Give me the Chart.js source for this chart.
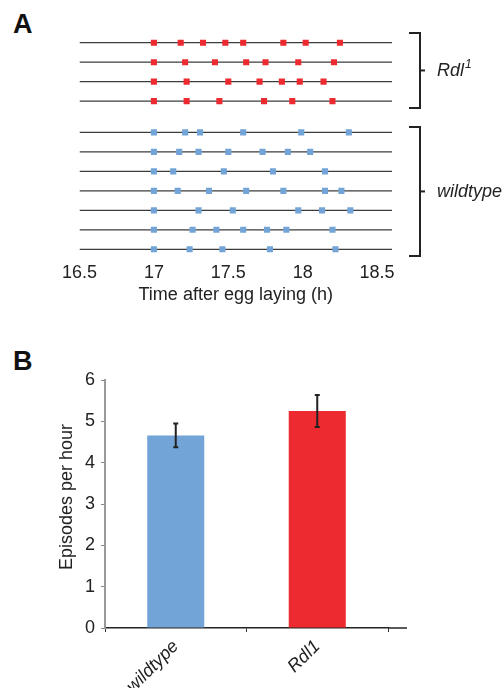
<!DOCTYPE html>
<html><head><meta charset="utf-8">
<script src="https://cdn.jsdelivr.net/npm/chart.js@4"></script>
<style>
html,body{margin:0;padding:0;background:#fff;}
body{width:504px;height:688px;position:relative;overflow:hidden;font-family:"Liberation Sans",Arial,sans-serif;}
#wa{position:absolute;left:0;top:0;width:504px;height:315px;}
#wb{position:absolute;left:0;top:340px;width:504px;height:348px;}
.pl{position:absolute;left:13px;font:bold 27px "Liberation Sans",Arial,sans-serif;line-height:1;color:#111;}
</style></head><body>
<div class="pl" style="top:11px">A</div>
<div class="pl" style="top:348px">B</div>
<div id="wa"><canvas id="ca"></canvas></div>
<div id="wb"><canvas id="cb"></canvas></div>
<script>
// ---- Panel A data ----
const timeTicks = [16.5, 17, 17.5, 18, 18.5];
const timeRange = [16.5, 18.6];
const rdlRows = [
  [17.00, 17.18, 17.33, 17.48, 17.60, 17.87, 18.02, 18.25],
  [17.00, 17.21, 17.41, 17.62, 17.75, 17.97, 18.21],
  [17.00, 17.22, 17.50, 17.71, 17.86, 17.98, 18.14],
  [17.00, 17.22, 17.44, 17.74, 17.93, 18.20]
];
const wildtypeRows = [
  [17.00, 17.21, 17.31, 17.60, 17.99, 18.31],
  [17.00, 17.17, 17.30, 17.50, 17.73, 17.90, 18.05],
  [17.00, 17.13, 17.47, 17.80, 18.15],
  [17.00, 17.16, 17.37, 17.62, 17.87, 18.15, 18.26],
  [17.00, 17.30, 17.53, 17.97, 18.13, 18.32],
  [17.00, 17.26, 17.42, 17.60, 17.76, 17.89, 18.20],
  [17.00, 17.24, 17.46, 17.78, 18.22]
];
const groupNames = ['Rdl', 'wildtype'];
const groupSup = ['1', ''];
const xTitleA = 'Time after egg laying (h)';

// ---- Panel B data ----
const barCategories = ['wildtype', 'Rdl1'];
const barMeans = [4.66, 5.25];
const barErrors = [0.29, 0.39];
const yTicksB = [0, 1, 2, 3, 4, 5, 6];
const yTitleB = 'Episodes per hour';

const F = '"Liberation Sans", Arial, Helvetica, sans-serif';
const RED = '#EC2A30', BLUE = '#72A4D7', INK = '#222';

// rows -> y positions (row index based, gap between groups)
const rowsA = [];
rdlRows.forEach((r, i) => rowsA.push({vals: r, y: i, color: RED}));
wildtypeRows.forEach((r, i) => rowsA.push({vals: r, y: rdlRows.length + 0.6 + i, color: BLUE}));

const dsA = [];
rowsA.forEach(row => dsA.push({
  type: 'scatter', data: row.vals.map(v => ({x: v, y: row.y})),
  pointStyle: 'rect', pointRadius: 4.3, pointHoverRadius: 4.3,
  backgroundColor: row.color, borderWidth: 0, order: 0
}));
rowsA.forEach(row => dsA.push({
  type: 'line', data: timeRange.map(v => ({x: v, y: row.y})),
  borderColor: '#3c3c3c', borderWidth: 1.3, pointRadius: 0, order: 1
}));

const bracketPlugin = {
  id: 'brackets',
  afterDraw(c) {
    const {ctx, chartArea: a, scales: {y}} = c;
    const nR = rdlRows.length, nW = wildtypeRows.length;
    const groups = [
      {t: y.getPixelForValue(-0.5), b: y.getPixelForValue(nR - 1 + 0.35)},
      {t: y.getPixelForValue(nR + 0.6 - 0.28), b: y.getPixelForValue(nR + 0.6 + nW - 1 + 0.34)}
    ];
    ctx.save();
    ctx.strokeStyle = INK; ctx.lineWidth = 2;
    const x0 = a.right + 17, x1 = a.right + 28;
    groups.forEach((g, i) => {
      ctx.beginPath();
      ctx.moveTo(x0, g.t); ctx.lineTo(x1, g.t); ctx.lineTo(x1, g.b); ctx.lineTo(x0, g.b);
      ctx.stroke();
      const m = (g.t + g.b) / 2;
      ctx.beginPath(); ctx.moveTo(x1, m); ctx.lineTo(x1 + 5, m); ctx.stroke();
      ctx.fillStyle = INK; ctx.textBaseline = 'middle'; ctx.textAlign = 'left';
      ctx.font = 'italic 18px ' + F;
      const lx = a.right + 45;
      ctx.fillText(groupNames[i], lx, m + 1);
      if (groupSup[i]) {
        const w = ctx.measureText(groupNames[i]).width;
        ctx.font = 'italic 12px ' + F;
        ctx.fillText(groupSup[i], lx + w + 1, m - 6);
      }
    });
    ctx.restore();
  }
};

new Chart(document.getElementById('ca'), {
  type: 'scatter',
  data: {datasets: dsA},
  options: {
    responsive: true, maintainAspectRatio: false, animation: false,
    layout: {padding: {left: 79.5, right: 112, top: 30, bottom: 0}},
    plugins: {legend: {display: false}, tooltip: {enabled: false}},
    scales: {
      x: {
        type: 'linear', position: 'bottom', min: timeRange[0], max: timeRange[1],
        afterBuildTicks(s) { s.ticks = timeTicks.map(v => ({value: v})); },
        grid: {display: false, drawTicks: false}, border: {display: false},
        ticks: {font: {size: 18, family: F}, color: INK, padding: 0, maxRotation: 0,
                callback: v => String(v)},
        title: {display: true, text: xTitleA, font: {size: 18, family: F}, color: INK, padding: {top: 0, bottom: 9}},
        afterFit(s) { s.height = 53; }
      },
      y: {type: 'linear', display: false, reverse: true, min: -0.65, max: 11.25}
    }
  },
  plugins: [bracketPlugin]
});

const barExtrasPlugin = {
  id: 'barExtras',
  afterDatasetsDraw(c) {
    const {ctx, chartArea: a, scales: {y}} = c;
    const meta = c.getDatasetMeta(0);
    ctx.save();
    // error bars
    ctx.strokeStyle = INK; ctx.lineWidth = 2;
    meta.data.forEach((bar, i) => {
      const x = bar.x;
      const yt = y.getPixelForValue(barMeans[i] + barErrors[i]);
      const yb = y.getPixelForValue(barMeans[i] - barErrors[i]);
      ctx.beginPath();
      ctx.moveTo(x, yt); ctx.lineTo(x, yb);
      ctx.moveTo(x - 2.5, yt); ctx.lineTo(x + 2.5, yt);
      ctx.moveTo(x - 2.5, yb); ctx.lineTo(x + 2.5, yb);
      ctx.stroke();
    });
    ctx.restore();
  },
  afterDraw(c) {
    const {ctx, chartArea: a} = c;
    ctx.save();
    // x axis line continues past last category
    ctx.strokeStyle = INK; ctx.lineWidth = 1.5;
    ctx.beginPath(); ctx.moveTo(a.right, a.bottom); ctx.lineTo(a.right + 19, a.bottom); ctx.stroke();
    // y title
    ctx.fillStyle = INK; ctx.font = '18px ' + F; ctx.textAlign = 'center'; ctx.textBaseline = 'middle';
    ctx.translate(a.left - 38, (a.top + a.bottom) / 2 - 7);
    ctx.rotate(-Math.PI / 2);
    ctx.fillText(yTitleB, 0, 0);
    ctx.restore();
  }
};

new Chart(document.getElementById('cb'), {
  type: 'bar',
  data: {labels: barCategories, datasets: [{
    data: barMeans, backgroundColor: [BLUE, RED], borderWidth: 0,
    categoryPercentage: 1, barPercentage: 0.403
  }]},
  options: {
    responsive: true, maintainAspectRatio: false, animation: false,
    layout: {padding: {left: 0, right: 116, top: 40, bottom: 0}},
    plugins: {legend: {display: false}, tooltip: {enabled: false}},
    scales: {
      x: {
        grid: {display: true, drawOnChartArea: false, drawTicks: true, tickLength: 4, color: '#333', offset: true},
        border: {display: true, color: INK, width: 1.5},
        ticks: {maxRotation: 45, minRotation: 45, font: {size: 18, style: 'italic', family: F}, color: INK, padding: 4},
        afterFit(s) { s.height = 60; }
      },
      y: {
        min: 0, max: 6,
        afterBuildTicks(s) { s.ticks = yTicksB.map(v => ({value: v})); },
        grid: {display: true, drawOnChartArea: false, drawTicks: true, tickLength: 4, color: '#888'},
        border: {display: true, color: '#999', width: 2},
        ticks: {font: {size: 18, family: F}, color: INK, padding: 6},
        afterFit(s) { s.width = 105; }
      }
    }
  },
  plugins: [barExtrasPlugin]
});
</script>
</body></html>
